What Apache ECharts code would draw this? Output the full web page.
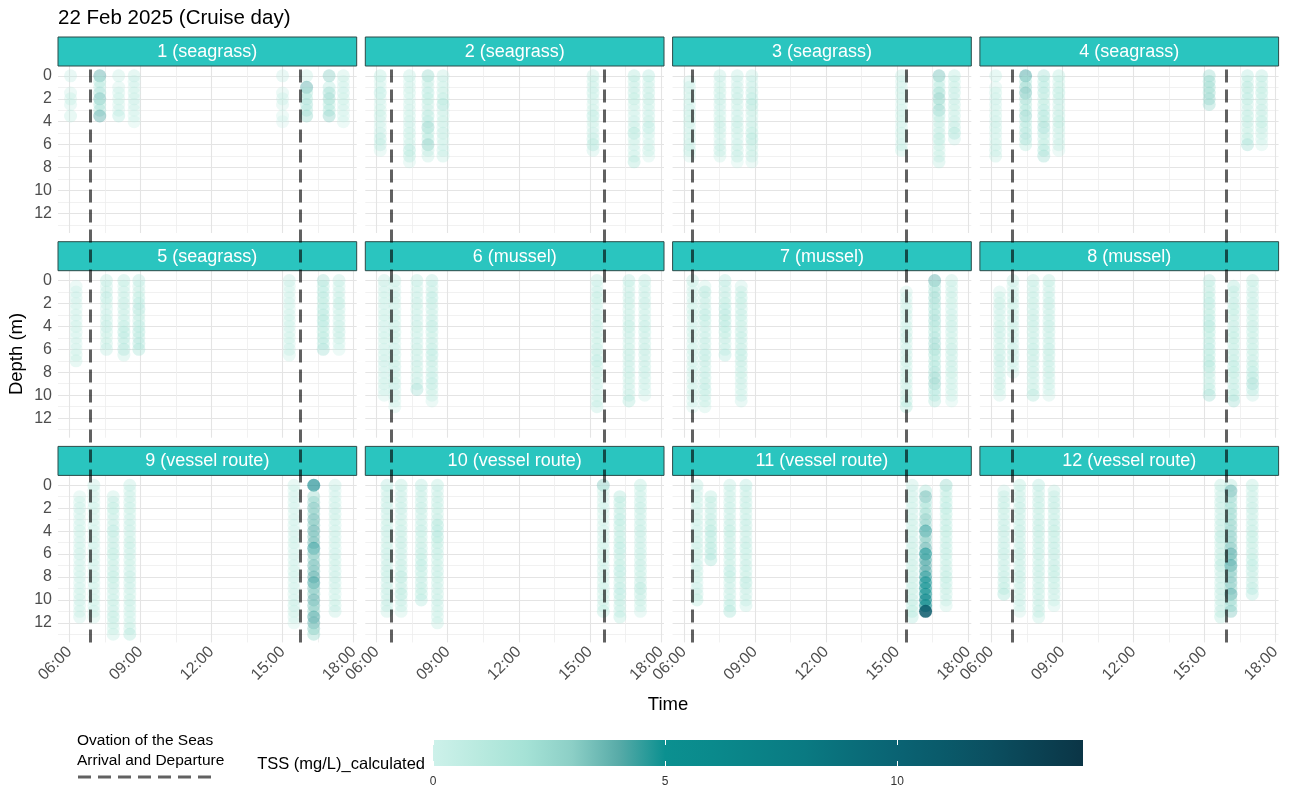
<!DOCTYPE html>
<html><head><meta charset="utf-8">
<script src="https://cdn.jsdelivr.net/npm/echarts@6/dist/echarts.min.js"></script>
<style>html,body{margin:0;padding:0;background:#fff}#c{width:1296px;height:789px}</style>
</head><body><div id="c"></div><script>
// ---------------- data ----------------
const chartTitle = '22 Feb 2025 (Cruise day)';
const panelTitles = ['1 (seagrass)','2 (seagrass)','3 (seagrass)','4 (seagrass)',
  '5 (seagrass)','6 (mussel)','7 (mussel)','8 (mussel)',
  '9 (vessel route)','10 (vessel route)','11 (vessel route)','12 (vessel route)'];
const arrivalTimes   = ['06:53','06:38','06:22','06:54'];   // per facet column
const departureTimes = ['15:44','15:36','15:22','15:55'];
const xTicks = [6, 9, 12, 15, 18];
const xMinorTicks = [7.5, 10.5, 13.5, 16.5];
const yTicks = [0, 2, 4, 6, 8, 10, 12];
const yMinorTicks = [1, 3, 5, 7, 9, 11, 13];
const colorbarTicks = [0, 5, 10];
const DEPTH_STEP = 0.5; // profile sampling interval (m)
// each cast: [time, first depth (m), TSS values (mg/L) every DEPTH_STEP]
const site1 = [
  ['06:03',0,[0.9,null,null,0.6,0.8,0.7,null,1.0]],
  ['07:17',0,[3.8,1.8,1.5,2.2,3.4,2.0,2.2,3.8]],
  ['08:05',0,[1.0,null,0.6,0.7,0.8,0.6,0.7,1.6]],
  ['08:44',0,[1.2,0.7,0.6,0.8,0.9,0.7,0.6,0.5,0.4]],
  ['15:00',0,[0.9,null,null,0.6,0.7,0.6,null,0.4,0.3]],
  ['16:01',0,[1.0,null,3.8,1.8,2.0,2.2,1.9,2.6]],
  ['16:58',0,[3.0,null,1.6,2.4,2.6,1.8,2.0,2.8]],
  ['17:34',0,[1.0,0.6,0.7,0.9,0.8,0.7,0.6,0.5,0.4]]
];
const site2 = [
  ['06:09',0,[1.4,0.6,0.5,1.6,0.7,0.6,0.8,1.2,0.6,0.7,0.9,1.5,1.3,0.6]],
  ['07:23',0,[1.3,0.4,0.6,0.8,0.5,0.7,0.6,0.8,0.9,0.7,1.0,0.8,0.9,1.8,1.4,0.6]],
  ['08:10',0,[2.6,1.2,1.0,1.6,1.4,1.2,1.0,1.8,1.6,2.8,1.4,1.8,3.0,1.2,1.0]],
  ['08:48',0,[1.2,0.6,0.8,1.0,1.4,2.0,0.9,0.8,1.0,0.7,1.2,0.8,0.7,0.9,1.1]],
  ['15:08',0,[1.2,0.8,0.9,1.1,0.7,0.6,0.8,1.6,0.8,0.6,0.9,1.3,1.8,0.9]],
  ['16:52',0,[1.8,1.0,0.9,1.2,1.4,0.8,0.6,0.7,0.9,1.0,2.0,0.8,0.6,0.7,0.8,1.8]],
  ['17:29',0,[1.6,0.8,0.9,1.0,1.2,0.8,0.7,0.9,1.0,1.6,0.7,0.5,0.6,1.0,0.4]]
];
const site3 = [
  ['06:14',0.5,[0.7,0.9,0.6,0.8,0.7,0.9,0.8,1.0,0.7,0.6,0.8,0.9,1.2,0.5]],
  ['07:31',0,[1.3,0.6,0.8,1.0,1.1,0.9,0.7,0.8,1.0,1.2,0.8,0.6,0.9,1.2,0.8]],
  ['08:15',0,[1.3,0.6,0.9,1.1,1.2,0.8,0.7,0.9,1.1,1.2,0.8,0.7,0.9,1.0,1.3,0.5]],
  ['08:52',0,[1.3,0.7,0.9,1.2,1.6,1.8,1.2,0.8,0.9,1.0,1.4,1.8,1.2,0.8,1.2,0.6]],
  ['15:11',0,[1.2,0.6,0.7,0.8,0.6,0.5,0.7,0.8,0.6,0.7,0.8,0.6,0.9,1.1]],
  ['16:46',0,[3.4,1.2,1.6,2.6,3.0,1.8,2.8,1.6,1.2,1.0,1.3,1.8,1.0,0.8,1.0,1.2]],
  ['17:25',0,[1.4,0.8,1.0,1.2,0.9,1.0,0.8,0.9,1.0,1.2,2.0,0.9]]
];
const site4 = [
  ['06:11',0,[1.1,null,0.6,0.8,0.9,0.7,0.6,0.8,0.9,1.0,0.7,0.6,0.8,0.9,1.0]],
  ['07:27',0,[4.2,2.0,2.8,3.4,2.4,1.8,2.0,2.8,1.6,1.8,1.9,2.2,1.4]],
  ['08:13',0,[2.2,1.4,1.6,1.8,1.2,1.4,1.6,2.0,1.8,2.4,1.6,1.2,1.4,2.0,2.2]],
  ['08:51',0,[1.4,0.8,1.0,1.4,1.2,0.9,1.0,1.2,1.4,1.2,0.8,0.9,1.0,0.6]],
  ['15:12',0,[2.4,2.6,2.5,2.6,2.7,2.4]],
  ['16:49',0,[1.6,1.0,1.8,1.2,1.6,1.0,0.9,1.4,1.2,1.0,0.8,1.4,2.2]],
  ['17:25',0,[1.5,1.0,1.2,1.4,1.0,0.9,1.2,1.0,1.4,1.2,0.8,0.6,0.5]]
];
const site5 = [
  ['06:17',0.5,[0.6,0.7,0.9,0.6,0.5,0.6,0.7,0.8,0.6,0.5,0.7,0.6,0.8,1.0]],
  ['07:34',0,[1.4,0.9,1.0,1.6,0.8,0.7,0.9,1.1,1.3,1.0,0.8,1.0,1.3]],
  ['08:18',0,[1.5,0.8,0.9,1.0,1.2,1.0,0.9,1.1,1.4,1.8,1.6,1.3,1.9,1.0]],
  ['08:56',0,[1.6,0.9,1.0,1.4,1.6,1.9,1.2,1.3,1.6,1.8,1.5,1.9,2.0]],
  ['15:17',0,[1.2,0.6,0.5,0.7,0.6,0.5,0.7,0.8,0.7,0.6,0.8,0.7,0.9,0.8]],
  ['16:43',0,[2.2,1.4,1.6,1.8,1.4,1.6,1.8,2.0,1.6,1.4,1.8,1.6,2.2]],
  ['17:23',0,[1.3,0.8,0.9,1.0,1.4,0.9,0.8,0.9,1.0,1.2,1.0,0.7,0.5]]
];
const site6 = [
  ['06:19',0,[1.2,0.6,0.7,0.8,0.7,0.6,0.8,0.7,0.6,0.7,0.8,0.6,0.7,0.8,0.9,0.7,0.6,0.7,0.8,0.7,0.6]],
  ['06:46',0,[1.2,0.5,0.7,0.9,0.8,0.6,0.7,0.8,0.9,1.0,0.8,0.7,0.9,1.0,0.8,1.2,0.9,0.8,1.3,0.9,0.7,0.6,0.5]],
  ['07:42',0,[1.4,0.6,0.8,0.9,1.0,0.8,0.7,0.9,1.0,0.8,0.7,0.9,1.0,0.8,0.9,1.0,0.8,0.9,1.2,2.2]],
  ['08:20',0,[1.5,0.9,1.0,1.6,1.2,1.0,0.9,1.2,1.5,1.1,1.0,1.2,1.3,1.6,1.2,1.0,1.1,1.3,1.5,1.0,0.8,0.6]],
  ['15:18',0,[1.3,0.7,0.9,1.4,0.8,0.7,0.9,1.0,1.1,0.9,0.8,1.0,1.2,1.0,1.6,1.2,1.0,0.8,0.9,0.7,0.6,1.0,1.3]],
  ['16:39',0,[1.6,0.8,0.9,1.2,1.0,0.8,0.9,1.0,1.4,1.0,0.9,0.8,1.0,1.2,1.0,0.9,1.1,1.0,0.8,0.9,1.0,1.8]],
  ['17:19',0,[1.3,0.8,0.9,1.0,1.2,0.8,0.9,1.0,1.3,1.1,0.9,1.0,1.2,1.0,0.9,1.0,1.1,0.9,0.8,0.7,0.6]]
];
const site7 = [
  ['06:22',0,[1.3,0.5,0.6,0.7,0.6,0.8,0.7,0.6,0.7,0.8,0.6,0.7,0.8,0.7,0.6,0.8,0.7,0.6,0.7,0.8,0.6,0.5,0.5]],
  ['06:53',0.5,[0.8,1.8,1.2,1.0,1.2,1.6,1.4,1.0,0.9,1.1,1.2,1.0,1.6,1.2,1.0,1.1,1.3,1.2,1.6,1.0,1.1,0.8]],
  ['07:44',0,[1.6,0.9,1.0,1.2,1.4,1.6,1.8,1.8,1.6,1.4,1.2,1.0,1.1,1.6]],
  ['08:25',0.5,[0.9,1.0,1.4,1.2,1.0,1.3,1.1,1.0,1.2,1.3,1.0,1.2,1.6,1.2,1.0,1.1,1.0,0.9,0.8,0.7,0.9]],
  ['15:23',1,[0.6,0.7,0.6,0.8,0.7,0.6,0.8,1.0,1.2,0.8,0.7,0.9,1.0,0.8,0.7,0.8,0.9,0.8,1.0,1.4,1.8]],
  ['16:35',0,[3.8,2.0,2.2,2.6,2.2,2.0,2.2,2.4,2.0,1.8,2.2,2.4,2.6,2.0,1.8,2.0,2.2,2.6,2.8,2.0,1.6,1.8]],
  ['17:18',0,[1.2,0.8,0.9,1.0,0.8,0.7,0.9,1.0,1.1,0.9,0.8,1.0,1.2,1.0,0.9,1.0,1.1,0.8,0.7,0.8,0.6,0.5]]
];
const site8 = [
  ['06:21',1,[0.6,0.8,1.0,0.9,0.7,0.8,1.0,1.1,0.9,0.8,1.0,1.1,1.2,0.9,0.8,0.9,1.0,0.8,0.7]],
  ['06:55',0,[1.2,0.6,0.7,0.9,1.0,0.8,0.7,0.9,1.0,0.8,0.7,0.9,1.0,0.9,0.8,0.7,0.6]],
  ['07:46',0,[1.3,0.8,0.9,1.1,1.0,0.9,1.0,1.2,1.1,1.0,0.9,1.1,1.3,1.2,1.0,0.9,1.0,0.9,0.8,1.0,1.8]],
  ['08:26',0,[1.4,0.8,0.9,1.1,1.2,1.0,0.9,1.1,1.2,1.0,0.9,1.1,1.3,1.2,1.0,1.1,1.0,0.9,0.8,0.7,0.6]],
  ['15:12',0,[1.5,1.0,1.2,1.4,1.6,1.2,1.4,1.6,2.0,1.4,1.3,1.5,1.6,1.4,1.8,2.0,1.2,1.0,1.1,1.4,2.2]],
  ['16:14',0.5,[1.8,1.0,1.1,1.2,1.4,1.1,1.0,1.2,1.3,1.4,1.2,1.1,1.2,1.3,1.6,1.4,1.2,1.1,1.3,1.4,2.2]],
  ['17:02',0,[1.4,0.8,0.9,1.0,1.1,0.9,0.8,1.0,1.2,1.1,1.0,1.2,1.1,1.0,1.2,1.4,1.6,1.8,2.4,1.6,0.9]]
];
const site9 = [
  ['06:26',1,[0.6,0.8,0.9,0.7,0.6,0.7,0.8,0.6,0.7,0.8,0.9,0.7,0.6,0.8,0.7,0.6,0.7,0.8,0.9,0.7,0.8,0.9]],
  ['07:02',0,[1.2,0.5,0.6,0.7,0.8,0.6,0.5,0.6,0.7,0.6,0.8,0.7,0.6,0.8,0.7,0.6,0.9,0.8,0.6,0.7,0.8,0.7,0.9,0.8]],
  ['07:51',1,[1.0,1.2,1.4,1.1,0.9,1.0,1.6,1.2,1.0,1.2,1.4,1.1,1.0,1.2,1.4,1.2,1.0,0.9,1.1,1.0,0.9,1.4,1.0,0.8,1.0]],
  ['08:33',0,[1.3,0.8,0.9,1.0,1.1,0.8,0.9,1.0,0.9,0.8,1.2,1.1,0.9,1.0,0.8,0.9,1.2,1.0,0.9,0.8,1.0,0.9,0.8,0.7,0.8,1.0,1.8]],
  ['15:29',0,[1.0,0.5,0.6,0.7,0.6,0.5,0.6,0.7,0.6,0.7,0.8,0.6,0.5,0.7,0.6,0.8,0.7,0.6,0.7,0.6,0.7,1.2,0.8,0.6,0.5]],
  ['16:19',0,[6.6,null,2.6,2.9,3.4,3.0,3.6,3.2,3.8,3.4,3.6,4.6,3.4,3.0,3.6,3.4,4.0,4.4,3.4,3.2,3.8,3.4,3.0,4.2,3.8,3.2,2.6]],
  ['17:13',0,[1.2,0.6,0.7,0.8,0.9,1.0,0.8,0.7,0.8,0.9,0.8,0.7,0.9,1.0,0.8,0.9,1.0,0.9,0.8,0.7,0.8,1.0,1.2]]
];
const site10 = [
  ['06:26',0,[1.6,0.8,0.9,1.0,1.1,0.9,0.8,1.0,1.1,0.9,0.8,1.0,1.1,0.9,1.0,1.2,1.1,0.9,1.0,1.1,0.9,1.2,1.0]],
  ['07:02',0,[1.4,0.8,0.9,1.0,1.1,0.9,0.8,1.0,1.1,1.0,1.2,1.0,0.9,1.0,1.2,1.1,1.8,1.0,1.2,1.8,1.0,0.9,0.8]],
  ['07:53',0,[1.5,0.9,1.0,1.1,1.2,1.0,0.9,1.1,1.3,1.1,1.0,1.2,1.3,1.4,1.6,1.3,1.1,1.2,1.3,1.4,1.6]],
  ['08:34',0,[1.4,0.9,1.0,1.2,1.1,1.0,1.2,2.0,1.6,2.0,1.4,1.2,1.3,1.1,1.0,1.2,1.1,1.0,0.9,1.0,1.1,0.9,0.8,0.7,1.0]],
  ['15:34',0,[3.2,0.8,0.6,0.7,0.8,0.6,0.5,0.6,0.7,0.6,0.7,0.8,0.6,0.7,0.8,0.9,0.7,0.8,0.9,0.8,0.9,1.0,1.4]],
  ['16:16',1,[1.8,1.4,1.2,1.3,1.6,1.4,1.2,1.3,1.4,1.6,1.3,1.2,1.4,1.6,1.3,1.2,1.5,1.6,1.3,1.2,1.1,1.4]],
  ['17:08',0,[1.4,0.8,0.9,1.1,1.2,1.0,0.9,1.1,1.2,1.0,0.9,1.0,1.1,1.0,1.2,1.1,1.0,1.2,1.8,1.2,1.0,0.8,0.7]]
];
const site11 = [
  ['06:33',0,[1.3,0.6,0.7,0.8,0.7,0.6,0.8,0.9,0.7,0.8,0.9,1.0,0.8,0.7,0.9,1.0,0.8,0.7,0.9,1.2,1.4]],
  ['07:08',1,[1.4,1.2,1.0,1.1,1.2,1.4,1.8,1.6,1.4,1.8,1.6,2.0]],
  ['07:56',0,[1.3,0.8,0.9,1.0,1.1,0.9,1.0,1.2,1.4,1.2,1.0,1.1,1.2,1.1,1.0,1.6,1.4,1.0,0.9,1.0,1.1,1.4,2.0]],
  ['08:37',0,[1.6,0.9,1.0,1.2,1.1,1.0,1.1,1.2,1.0,0.9,1.2,1.3,1.1,1.0,1.2,1.1,1.0,1.8,1.0,0.9,1.0,1.1]],
  ['15:38',0,[1.2,0.6,0.7,0.8,0.7,0.6,0.8,0.9,0.8,0.7,0.9,1.0,0.8,0.9,1.0,0.8,0.9,1.0,1.1,1.0,1.2,1.3,1.4,1.6]],
  ['16:12',0.5,[2.0,3.6,2.4,2.0,2.6,3.2,2.8,4.6,3.4,3.0,3.8,5.2,4.4,4.0,4.2,4.8,5.6,5.0,5.4,6.6,6.0,11.0]],
  ['17:04',0,[2.6,1.2,1.3,1.4,1.6,1.4,1.2,1.3,1.4,1.2,1.1,1.3,1.2,1.1,1.0,1.2,1.4,1.3,1.1,1.0,0.9,0.8]]
];
const site12 = [
  ['06:32',0.5,[0.9,1.0,1.2,1.1,1.0,0.9,1.1,1.2,1.0,0.9,1.1,1.2,1.0,0.9,1.1,1.2,1.3,1.4,2.0]],
  ['07:12',0,[1.4,0.8,0.9,1.1,1.2,1.0,0.9,1.1,1.2,1.0,0.9,1.1,1.2,1.0,0.9,1.1,1.2,1.0,0.9,0.8,0.9,0.7,0.6]],
  ['08:00',0,[1.6,0.9,1.0,1.2,1.1,1.0,1.1,1.2,1.3,1.2,1.0,1.1,1.2,1.0,1.1,1.2,1.0,0.9,1.0,1.1,0.9,1.0,1.2,1.1]],
  ['08:39',0.5,[1.2,1.0,1.3,1.2,1.0,1.1,1.2,1.4,1.2,1.1,1.3,1.2,1.0,1.2,1.4,1.2,1.1,1.0,0.9,0.8,0.7]],
  ['15:41',0,[1.4,0.8,0.9,1.2,1.0,0.9,1.1,1.2,1.0,1.8,1.1,1.0,1.2,1.4,1.8,1.0,0.9,1.0,1.1,1.2,1.0,0.9,1.2,1.4]],
  ['16:07',0,[1.8,3.8,2.7,2.3,2.5,2.7,2.5,2.9,2.7,3.1,2.9,3.3,4.1,3.5,4.3,3.3,3.1,3.3,2.9,4.1,2.7,2.5,3.1]],
  ['17:01',0,[1.4,0.8,0.9,1.0,1.2,1.0,0.9,1.1,1.2,1.4,1.1,1.0,1.2,1.4,1.6,1.2,1.0,1.2,1.5,1.6]]
];
const sites = [site1,site2,site3,site4,site5,site6,site7,site8,site9,site10,site11,site12];
const tssColors = ['#cdf1ea','#b9eadf','#a5e2d6','#8ccfc6','#58aba8','#0b9090','#0a8a8c',
  '#0a8287','#0a7a82','#0a6e7a','#0a6373','#0a5a6a','#0b4f60','#0b4253','#0b3546'];
const TSS_MIN = 0, TSS_MAX = 14;

// ---------------- layout ----------------
const X_MIN = 5.52, X_MAX = 18.13, Y_MIN = -0.86, Y_MAX = 13.71;
const LEFT0 = 58, COL_STRIDE = 307.3, PANEL_W = 298.7;
const STRIP_TOP0 = 37, ROW_STRIDE = 204.7, STRIP_H = 29, PLOT_H = 167;
const FONT = '"Liberation Sans", Arial, Helvetica, sans-serif';
const LINE_COLOR = 'rgba(0,0,0,0.62)';
const DASH = [13, 7];

const hours = s => { const [h, m] = s.split(':').map(Number); return h + m / 60; };
const fmtTime = v => String(Math.round(v)).padStart(2, '0') + ':00';

const grids = [], xAxes = [], yAxes = [], series = [], graphics = [];
const majorGrid = {show: true, lineStyle: {color: '#e4e4e4', width: 1.1}};
const minorGrid = {show: true, lineStyle: {color: '#ededed', width: 0.8}};

for (let p = 0; p < 12; p++) {
  const r = Math.floor(p / 4), c = p % 4;
  const left = LEFT0 + c * COL_STRIDE;
  const stripTop = STRIP_TOP0 + r * ROW_STRIDE;
  const top = stripTop + STRIP_H;
  grids.push({left: left, top: top, width: PANEL_W, height: PLOT_H, outerBoundsMode: 'none'});
  xAxes.push({gridIndex: p, type: 'value', min: X_MIN, max: X_MAX, position: 'bottom',
    axisLine: {show: false}, axisTick: {show: false, customValues: xTicks},
    axisLabel: {show: r === 2, customValues: xTicks, formatter: fmtTime, rotate: 45,
      fontSize: 16, color: '#4d4d4d', fontFamily: FONT, margin: 7},
    splitLine: majorGrid});
  xAxes.push({gridIndex: p, type: 'value', min: X_MIN, max: X_MAX, position: 'top',
    axisLine: {show: false}, axisTick: {show: false, customValues: xMinorTicks},
    axisLabel: {show: false, customValues: xMinorTicks}, splitLine: minorGrid});
  yAxes.push({gridIndex: p, type: 'value', min: Y_MIN, max: Y_MAX, inverse: true,
    axisLine: {show: false}, axisTick: {show: false, customValues: yTicks},
    axisLabel: {show: c === 0, customValues: yTicks, fontSize: 16, color: '#4d4d4d',
      fontFamily: FONT, margin: 6},
    splitLine: majorGrid});
  yAxes.push({gridIndex: p, type: 'value', min: Y_MIN, max: Y_MAX, inverse: true, position: 'right',
    axisLine: {show: false}, axisTick: {show: false, customValues: yMinorTicks},
    axisLabel: {show: false, customValues: yMinorTicks}, splitLine: minorGrid});
  const pts = [];
  sites[p].forEach(([t, d0, vals]) => {
    vals.forEach((v, i) => { if (v !== null) pts.push([hours(t), d0 + i * DEPTH_STEP, v]); });
  });
  series.push({type: 'scatter', xAxisIndex: 2 * p, yAxisIndex: 2 * p, data: pts,
    symbolSize: 13, silent: true, z: 3, itemStyle: {borderWidth: 0}});
  // facet strip
  graphics.push({type: 'rect', z: 1, shape: {x: left, y: stripTop, width: PANEL_W, height: STRIP_H},
    style: {fill: '#2ac5bf', stroke: '#2c4a48', lineWidth: 1}});
  graphics.push({type: 'text', z: 2, x: left + PANEL_W / 2, y: stripTop + STRIP_H / 2 + 0.5,
    style: {text: panelTitles[p], fill: '#ffffff', font: '18px ' + FONT, align: 'center', verticalAlign: 'middle'}});
}
// column overlays for arrival/departure lines (span all rows)
for (let c = 0; c < 4; c++) {
  const gi = grids.length;
  grids.push({left: LEFT0 + c * COL_STRIDE, top: STRIP_TOP0 + STRIP_H, width: PANEL_W,
    height: 2 * ROW_STRIDE + PLOT_H, outerBoundsMode: 'none'});
  xAxes.push({gridIndex: gi, type: 'value', min: X_MIN, max: X_MAX, show: false});
  yAxes.push({gridIndex: gi, type: 'value', min: 0, max: 1, show: false});
  series.push({type: 'scatter', xAxisIndex: xAxes.length - 1, yAxisIndex: yAxes.length - 1,
    data: [], z: 20, silent: true,
    markLine: {symbol: 'none', silent: true, animation: false, label: {show: false},
      lineStyle: {type: DASH, color: LINE_COLOR, width: 3},
      data: [{xAxis: hours(arrivalTimes[c])}, {xAxis: hours(departureTimes[c])}]}});
}
// colour bar
const cbGrid = grids.length;
grids.push({left: 433, top: 740, width: 650, height: 26, outerBoundsMode: 'none', show: true, borderWidth: 0,
  backgroundColor: {type: 'linear', x: 0, y: 0, x2: 1, y2: 0,
    colorStops: tssColors.map((col, i) => ({offset: i / (tssColors.length - 1), color: col}))}});
xAxes.push({gridIndex: cbGrid, type: 'value', min: TSS_MIN, max: TSS_MAX, position: 'bottom',
  axisLine: {show: false},
  axisTick: {show: true, inside: true, length: 5, customValues: colorbarTicks, lineStyle: {color: '#ffffff', width: 1}},
  axisLabel: {customValues: colorbarTicks, fontSize: 12, color: '#333333', fontFamily: FONT, margin: 10},
  splitLine: {show: false}});
xAxes.push({gridIndex: cbGrid, type: 'value', min: TSS_MIN, max: TSS_MAX, position: 'top',
  axisLine: {show: false},
  axisTick: {show: true, inside: true, length: 5, customValues: colorbarTicks, lineStyle: {color: '#ffffff', width: 1}},
  axisLabel: {show: false}, splitLine: {show: false}});
yAxes.push({gridIndex: cbGrid, type: 'value', show: false, min: 0, max: 1});

// text
graphics.push({type: 'text', x: 58, y: 18, style: {text: chartTitle, fill: '#000', font: '20.5px ' + FONT, align: 'left', verticalAlign: 'middle'}});
graphics.push({type: 'text', x: 668, y: 705, style: {text: 'Time', fill: '#000', font: '18.5px ' + FONT, align: 'center', verticalAlign: 'middle'}});
graphics.push({type: 'text', x: 17, y: 354, rotation: Math.PI / 2, style: {text: 'Depth (m)', fill: '#000', font: '18.5px ' + FONT, align: 'center', verticalAlign: 'middle'}});
graphics.push({type: 'text', x: 77, y: 741, style: {text: 'Ovation of the Seas', fill: '#000', font: '15.5px ' + FONT, align: 'left', verticalAlign: 'middle'}});
graphics.push({type: 'text', x: 77, y: 761, style: {text: 'Arrival and Departure', fill: '#000', font: '15.5px ' + FONT, align: 'left', verticalAlign: 'middle'}});
graphics.push({type: 'line', shape: {x1: 78, y1: 777, x2: 216, y2: 777}, style: {stroke: LINE_COLOR, lineWidth: 3, lineDash: DASH}});
graphics.push({type: 'text', x: 425, y: 764, style: {text: 'TSS (mg/L)_calculated', fill: '#000', font: '16.5px ' + FONT, align: 'right', verticalAlign: 'middle'}});

const chart = echarts.init(document.getElementById('c'), null, {renderer: 'canvas'});
chart.setOption({
  animation: false,
  backgroundColor: '#ffffff',
  textStyle: {fontFamily: FONT},
  grid: grids, xAxis: xAxes, yAxis: yAxes,
  visualMap: [{type: 'continuous', show: false, min: TSS_MIN, max: TSS_MAX, dimension: 2,
    seriesIndex: Array.from({length: 12}, (_, i) => i),
    inRange: {color: tssColors, opacity: [0.28, 1]}}],
  series: series,
  graphic: graphics
});
</script></body></html>
